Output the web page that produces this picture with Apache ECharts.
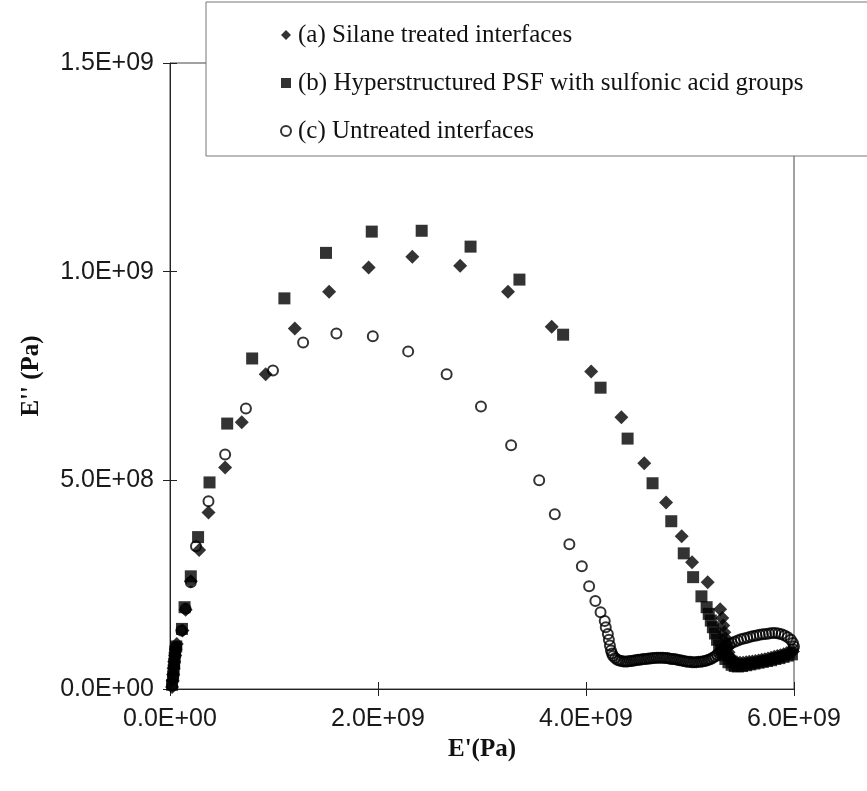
<!DOCTYPE html>
<html>
<head>
<meta charset="utf-8">
<script src="https://cdn.jsdelivr.net/npm/echarts@6/dist/echarts.min.js"></script>
<style>
  html, body { margin: 0; padding: 0; background: #fff; }
  #chart { width: 867px; height: 791px; }
</style>
</head>
<body>
<div id="chart"></div>
<script>
// points: [E' in 1E9 Pa, E'' in 1E8 Pa]
const seriesNames = [
  '(a) Silane treated interfaces',
  '(b) Hyperstructured PSF with sulfonic acid groups',
  '(c) Untreated interfaces'
]

const silane = [
  [0.02, 0.05], [0.025, 0.2], [0.03, 0.35], [0.035, 0.5], [0.04, 0.65], [0.05, 0.8], [0.055, 0.95], [0.065, 1.08],
  [0.12, 1.40], [0.15, 1.90], [0.20, 2.58], [0.28, 3.33], [0.37, 4.23], [0.53, 5.31], [0.69, 6.39], [0.92, 7.54],
  [1.20, 8.64], [1.53, 9.52], [1.91, 10.10], [2.33, 10.36], [2.79, 10.14], [3.25, 9.52], [3.67, 8.68], [4.05, 7.61],
  [4.34, 6.51], [4.56, 5.41], [4.77, 4.47], [4.92, 3.66], [5.02, 3.04], [5.17, 2.56], [5.29, 1.91],
  [5.31, 1.70], [5.32, 1.52], [5.33, 1.36], [5.34, 1.22], [5.35, 1.10], [5.36, 0.98], [5.37, 0.88], [5.38, 0.79],
  [5.40, 0.72], [5.42, 0.67], [5.45, 0.64], [5.48, 0.63], [5.51, 0.63], [5.54, 0.64], [5.57, 0.65], [5.60, 0.66],
  [5.63, 0.67], [5.66, 0.68], [5.69, 0.70], [5.72, 0.71], [5.75, 0.73], [5.78, 0.75], [5.81, 0.77], [5.84, 0.79],
  [5.87, 0.81], [5.90, 0.83], [5.93, 0.86], [5.96, 0.88], [5.99, 0.90], [6.01, 0.92]
]

const hyper = [
  [0.02, 0.1], [0.03, 0.3], [0.035, 0.45], [0.04, 0.6], [0.045, 0.75], [0.05, 0.9], [0.06, 1.02],
  [0.115, 1.44], [0.14, 1.96], [0.20, 2.70], [0.27, 3.64], [0.38, 4.95], [0.55, 6.36], [0.79, 7.92], [1.10, 9.36],
  [1.50, 10.45], [1.94, 10.96], [2.42, 10.98], [2.89, 10.60], [3.36, 9.81], [3.78, 8.49], [4.14, 7.22], [4.40, 6.00],
  [4.64, 4.93], [4.82, 4.02], [4.94, 3.25], [5.03, 2.68], [5.11, 2.22], [5.16, 1.96],
  [5.18, 1.80], [5.20, 1.64], [5.22, 1.48], [5.24, 1.33], [5.26, 1.18], [5.28, 1.04], [5.30, 0.92], [5.32, 0.81],
  [5.34, 0.72], [5.37, 0.64], [5.40, 0.58], [5.43, 0.55], [5.46, 0.54], [5.50, 0.55], [5.54, 0.57], [5.58, 0.59],
  [5.62, 0.61], [5.66, 0.63], [5.70, 0.65], [5.74, 0.67], [5.78, 0.69], [5.82, 0.72], [5.86, 0.74], [5.90, 0.77],
  [5.94, 0.80], [5.98, 0.83], [6.01, 0.86]
]

const untreated = [
  [0.02, 0.08], [0.03, 0.3], [0.04, 0.55], [0.05, 0.8], [0.06, 1.0], [0.11, 1.40], [0.15, 1.92], [0.20, 2.56],
  [0.25, 3.42], [0.37, 4.50], [0.53, 5.62], [0.73, 6.72], [0.99, 7.63], [1.28, 8.30], [1.60, 8.52], [1.95, 8.45],
  [2.29, 8.09], [2.66, 7.54], [2.99, 6.77], [3.28, 5.84], [3.55, 5.00], [3.70, 4.19], [3.84, 3.47], [3.96, 2.94],
  [4.03, 2.46], [4.09, 2.11], [4.14, 1.84], [4.18, 1.63], [4.19, 1.48], [4.21, 1.32], [4.22, 1.18], [4.23, 1.04],
  [4.24, 0.92], [4.25, 0.85], [4.26, 0.79], [4.28, 0.74], [4.30, 0.70], [4.32, 0.68], [4.34, 0.67], [4.36, 0.66],
  [4.38, 0.66], [4.40, 0.66], [4.42, 0.67], [4.44, 0.67], [4.46, 0.68], [4.48, 0.69], [4.50, 0.70], [4.52, 0.70],
  [4.54, 0.71], [4.56, 0.72], [4.58, 0.72], [4.60, 0.73], [4.62, 0.73], [4.64, 0.74], [4.66, 0.74], [4.68, 0.75],
  [4.70, 0.75], [4.72, 0.75], [4.74, 0.75], [4.76, 0.74], [4.78, 0.74], [4.80, 0.73], [4.82, 0.72], [4.84, 0.72],
  [4.86, 0.71], [4.88, 0.70], [4.90, 0.69], [4.92, 0.68], [4.94, 0.67], [4.96, 0.66], [4.98, 0.65], [5.00, 0.65],
  [5.02, 0.64], [5.04, 0.64], [5.06, 0.64], [5.08, 0.65], [5.10, 0.65], [5.12, 0.66], [5.14, 0.67], [5.16, 0.68],
  [5.18, 0.70], [5.20, 0.72], [5.22, 0.75], [5.24, 0.78], [5.26, 0.82], [5.28, 0.86], [5.30, 0.90], [5.32, 0.95],
  [5.34, 0.99], [5.36, 1.03], [5.38, 1.07], [5.40, 1.10], [5.43, 1.13], [5.46, 1.16], [5.49, 1.19], [5.52, 1.21],
  [5.55, 1.23], [5.58, 1.25], [5.61, 1.27], [5.64, 1.28], [5.67, 1.30], [5.70, 1.31], [5.73, 1.32], [5.76, 1.33],
  [5.79, 1.34], [5.82, 1.34], [5.85, 1.33], [5.88, 1.31], [5.91, 1.28], [5.94, 1.24], [5.97, 1.18], [5.99, 1.10],
  [6.00, 1.02], [5.99, 0.95]
]

const xMax = 6e9, xStep = 2e9
const yMax = 1.5e9, yStep = 5e8

const toPa = pts => pts.map(p => [p[0] * 1e9, p[1] * 1e8])

// 1.5e9 -> "1.5E+09"
const sci = v => {
  const [m, e] = v.toExponential(1).split('e')
  return m + 'E' + e[0] + e.slice(1).padStart(2, '0')
}

const ink = '#000'
const axisCol = '#222'
const tickFont = { fontFamily: 'Liberation Sans', fontSize: 25, color: '#1a1a1a' }
const nameFont = { fontFamily: 'Liberation Serif', fontSize: 25, fontWeight: 'bold', color: '#111' }

const chart = echarts.init(document.getElementById('chart'))

chart.setOption({
  animation: false,
  backgroundColor: '#fff',
  grid: { left: 170, right: 73, top: 63, bottom: 102, show: true, borderColor: '#444', borderWidth: 1 },
  legend: {
    orient: 'vertical',
    left: 206,
    top: 2,
    padding: [20, 400, 12, 74],
    itemGap: 22,
    itemWidth: 10,
    itemHeight: 10,
    backgroundColor: '#fff',
    borderColor: '#777',
    borderWidth: 1,
    textStyle: { fontFamily: 'Liberation Serif', fontSize: 25, lineHeight: 26, color: '#111', padding: [0, 0, 0, 2] },
    data: seriesNames
  },
  xAxis: [
    {
      type: 'value', min: 0, max: xMax, interval: xStep,
      name: "E'(Pa)", nameLocation: 'middle', nameGap: 48, nameTextStyle: nameFont,
      axisLine: { lineStyle: { color: axisCol } },
      axisTick: { length: 7, lineStyle: { color: axisCol } },
      axisLabel: Object.assign({ margin: 18, formatter: sci }, tickFont),
      splitLine: { show: false }
    },
    {
      type: 'value', min: 0, max: xMax, interval: xStep, position: 'bottom',
      axisLine: { show: false },
      axisTick: { inside: true, length: 7, lineStyle: { color: axisCol } },
      axisLabel: { show: false },
      splitLine: { show: false }
    }
  ],
  yAxis: [
    {
      type: 'value', min: 0, max: yMax, interval: yStep,
      name: "E'' (Pa)", nameLocation: 'middle', nameGap: 126, nameRotate: 90, nameTextStyle: nameFont,
      axisLine: { show: true, lineStyle: { color: axisCol } },
      axisTick: { show: true, length: 7, lineStyle: { color: axisCol } },
      axisLabel: Object.assign({ margin: 16, formatter: sci }, tickFont),
      splitLine: { show: false }
    },
    {
      type: 'value', min: 0, max: yMax, interval: yStep, position: 'left',
      axisLine: { show: false },
      axisTick: { show: true, inside: true, length: 7, lineStyle: { color: axisCol } },
      axisLabel: { show: false },
      splitLine: { show: false }
    }
  ],
  series: [
    {
      name: seriesNames[0], type: 'scatter', symbol: 'diamond', symbolSize: 14,
      itemStyle: { color: ink },
      data: toPa(silane)
    },
    {
      name: seriesNames[1], type: 'scatter', symbol: 'rect', symbolSize: 12,
      itemStyle: { color: ink },
      data: toPa(hyper)
    },
    {
      name: seriesNames[2], type: 'scatter', symbol: 'circle', symbolSize: 10,
      itemStyle: { color: 'rgba(0,0,0,0)', borderColor: ink, borderWidth: 2 },
      data: toPa(untreated)
    }
  ]
})
</script>
</body>
</html>
